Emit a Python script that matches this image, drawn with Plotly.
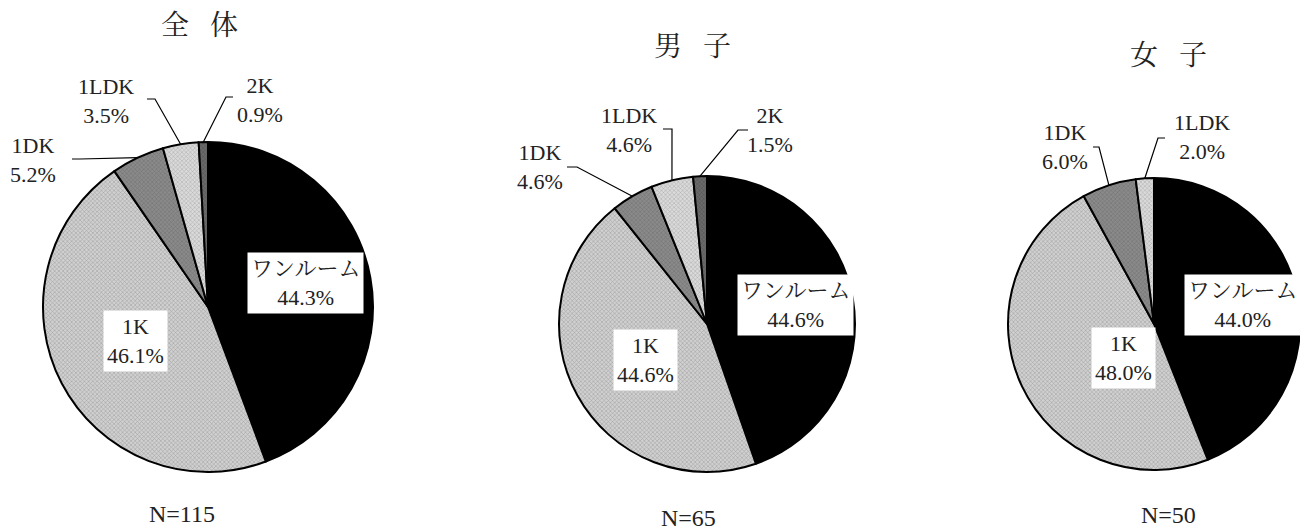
import math
import plotly.graph_objects as go

# ---------------- data ----------------
categories = ["ワンルーム", "1K", "1DK", "1LDK", "2K"]
all_values = [44.3, 46.1, 5.2, 3.5, 0.9]
male_values = [44.6, 44.6, 4.6, 4.6, 1.5]
female_categories = ["ワンルーム", "1K", "1DK", "1LDK"]
female_values = [44.0, 48.0, 6.0, 2.0]
titles = ["全\u2002 体", "男\u2002 子", "女\u2002 子"]
n_labels = ["N=115", "N=65", "N=50"]

# ---------------- styles / layout ----------------
PAGE_W, PAGE_H = 1308, 531
OFF = 8  # page body margin
W, H = PAGE_W - OFF, PAGE_H - OFF
FONT = "Liberation Serif, 'Noto Serif CJK JP', 'Noto Sans CJK JP', serif"
slice_style = {
    "ワンルーム": dict(color="#000000", shape="", fg="#000000"),
    "1K": dict(color="#d0d0d0", shape="x", fg="#9a9a9a"),
    "1DK": dict(color="#8a8a8a", shape="x", fg="#6e6e6e"),
    "1LDK": dict(color="#dadada", shape="x", fg="#a8a8a8"),
    "2K": dict(color="#6a6a6a", shape="x", fg="#505050"),
}

pies = [
    dict(cats=categories, vals=all_values, cx=208, cy=307, r=165,
         title=(199, 25), n=(182, 514),
         inside={"ワンルーム": (305, 283), "1K": (135, 341)},
         outside={"1DK": dict(text=(33, 160), start=(72, 159), elbow=(80, 159)),
                  "1LDK": dict(text=(106, 101), start=(147, 99), elbow=(155, 99)),
                  "2K": dict(text=(260, 100), start=(233, 97), elbow=(226, 97))}),
    dict(cats=categories, vals=male_values, cx=707, cy=324, r=148,
         title=(692, 46), n=(688, 518),
         inside={"ワンルーム": (795, 305), "1K": (645, 360)},
         outside={"1DK": dict(text=(540, 167), start=(567, 167), elbow=(577, 167)),
                  "1LDK": dict(text=(629, 130), start=(663, 129), elbow=(672, 129)),
                  "2K": dict(text=(770, 130), start=(748, 130), elbow=(738, 130))}),
    dict(cats=female_categories, vals=female_values, cx=1154, cy=324, r=146,
         title=(1168, 56), n=(1168, 515),
         inside={"ワンルーム": (1242, 305), "1K": (1123, 358)},
         outside={"1DK": dict(text=(1065, 147), start=(1093, 147), elbow=(1099, 147)),
                  "1LDK": dict(text=(1202, 137), start=(1165, 138), elbow=(1158, 138))}),
]


def px(x):
    return (x - OFF) / W


def py(y):
    return 1 - (y - OFF) / H


def text_ann(x, y, text, size, bg=None):
    d = dict(x=px(x), y=py(y), xref="paper", yref="paper", text=text,
             showarrow=False, xanchor="center", yanchor="middle",
             font=dict(family=FONT, size=size, color="#222222"))
    if bg:
        d.update(bgcolor=bg, borderpad=3)
    return d


fig = go.Figure()
annotations = []
shapes = []

for i, p in enumerate(pies):
    cx, cy, r = p["cx"], p["cy"], p["r"]
    fig.add_trace(go.Pie(
        labels=p["cats"], values=p["vals"], sort=False, direction="clockwise",
        rotation=0, textinfo="none", hoverinfo="label+percent", showlegend=False,
        domain=dict(x=[px(cx - r), px(cx + r)], y=[py(cy + r), py(cy - r)]),
        marker=dict(
            colors=[slice_style[c]["color"] for c in p["cats"]],
            line=dict(color="#000000", width=2),
            pattern=dict(
                shape=[slice_style[c]["shape"] for c in p["cats"]],
                fgcolor=[slice_style[c]["fg"] for c in p["cats"]],
                bgcolor=[slice_style[c]["color"] for c in p["cats"]],
                size=3, solidity=0.3, fillmode="replace"),
        ),
    ))
    total = sum(p["vals"])
    cum = 0.0
    for c, v in zip(p["cats"], p["vals"]):
        mid = (cum + v / 2) / total * 2 * math.pi
        cum += v
        label = f"{c}<br>{v:.1f}%"
        if c in p["inside"]:
            tx, ty = p["inside"][c]
            annotations.append(text_ann(tx, ty, label, 22, bg="#ffffff"))
        elif c in p["outside"]:
            o = p["outside"][c]
            tx, ty = o["text"]
            annotations.append(text_ann(tx, ty, label, 22))
            ex = cx + r * math.sin(mid)
            ey = cy - r * math.cos(mid)
            (sx, sy), (bx, by) = o["start"], o["elbow"]
            path = (f"M {px(sx)} {py(sy)} L {px(bx)} {py(by)} "
                    f"L {px(ex)} {py(ey)}")
            shapes.append(dict(type="path", xref="paper", yref="paper",
                               path=path, line=dict(color="#000000", width=1.2)))
    tx, ty = p["title"]
    annotations.append(text_ann(tx, ty, titles[i], 28))
    nx, ny = p["n"]
    annotations.append(text_ann(nx, ny, n_labels[i], 24))

fig.update_layout(
    width=W, height=H, margin=dict(l=0, r=0, t=0, b=0),
    paper_bgcolor="#ffffff", plot_bgcolor="#ffffff",
    annotations=annotations, shapes=shapes,
)

fig.write_html("out.html")
